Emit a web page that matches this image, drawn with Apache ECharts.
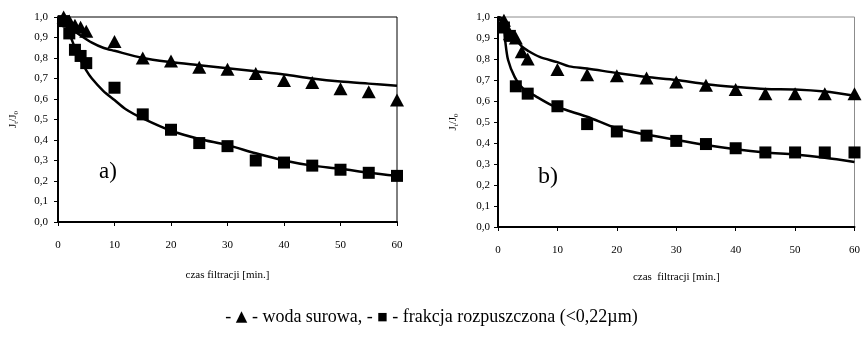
<!DOCTYPE html>
<html>
<head>
<meta charset="utf-8">
<script src="https://cdn.jsdelivr.net/npm/echarts@6/dist/echarts.min.js"></script>
<style>
	html, body { margin: 0; padding: 0; background: #fff; }
	#main { width: 863px; height: 341px; }
</style>
</head>
<body>
<div id="main"></div>
<script>
// dane z wykresu a)
var tA_woda = [1, 2, 3, 4, 5, 10, 15, 20, 25, 30, 35, 40, 45, 50, 55, 60];
var yA_woda = [1.0, 0.98, 0.96, 0.95, 0.93, 0.88, 0.80, 0.785, 0.755, 0.745, 0.725, 0.69, 0.68, 0.65, 0.635, 0.595];
var tA_frak = [1, 2, 3, 4, 5, 10, 15, 20, 25, 30, 35, 40, 45, 50, 55, 60];
var yA_frak = [0.98, 0.92, 0.84, 0.81, 0.775, 0.655, 0.525, 0.45, 0.385, 0.37, 0.30, 0.29, 0.275, 0.255, 0.24, 0.225];
// linie trendu a)
var tA_fitW = [0, 2, 4, 6, 8, 10, 15, 20, 25, 30, 35, 40, 45, 50, 55, 60];
var yA_fitW = [1.0, 0.95, 0.91, 0.875, 0.85, 0.835, 0.80, 0.78, 0.765, 0.75, 0.735, 0.72, 0.70, 0.685, 0.675, 0.665];
var tA_fitF = [0, 1, 2, 3, 4, 5, 6, 8, 10, 12, 15, 20, 25, 30, 35, 40, 45, 50, 55, 60];
var yA_fitF = [1.0, 0.98, 0.92, 0.85, 0.79, 0.74, 0.70, 0.64, 0.595, 0.55, 0.505, 0.445, 0.405, 0.375, 0.335, 0.30, 0.275, 0.26, 0.24, 0.225];

// dane z wykresu b)
var tB_woda = [1, 2, 3, 4, 5, 10, 15, 20, 25, 30, 35, 40, 45, 50, 55, 60];
var yB_woda = [0.985, 0.92, 0.90, 0.835, 0.80, 0.75, 0.725, 0.72, 0.71, 0.69, 0.675, 0.655, 0.635, 0.635, 0.635, 0.635];
var tB_frak = [1, 2, 3, 5, 10, 15, 20, 25, 30, 35, 40, 45, 50, 55, 60];
var yB_frak = [0.95, 0.91, 0.67, 0.635, 0.575, 0.49, 0.455, 0.435, 0.41, 0.395, 0.375, 0.355, 0.355, 0.355, 0.355];
// linie trendu b)
var tB_fitW = [0, 1, 2, 3, 4, 5, 7, 10, 12, 15, 20, 25, 30, 35, 40, 45, 50, 55, 60];
var yB_fitW = [1.0, 0.96, 0.93, 0.895, 0.86, 0.84, 0.81, 0.785, 0.765, 0.755, 0.733, 0.714, 0.70, 0.68, 0.667, 0.657, 0.655, 0.645, 0.625];
var tB_fitF = [0, 0.8, 1.2, 1.7, 2.8, 4.2, 6.5, 9, 10, 15, 20, 25, 30, 35, 40, 45, 50, 55, 60];
var yB_fitF = [1.0, 0.99, 0.89, 0.795, 0.715, 0.66, 0.62, 0.58, 0.57, 0.525, 0.47, 0.44, 0.415, 0.39, 0.37, 0.355, 0.345, 0.33, 0.31];

// osie
var xTicks = [0, 10, 20, 30, 40, 50, 60];
var yTicks = [0, 0.1, 0.2, 0.3, 0.4, 0.5, 0.6, 0.7, 0.8, 0.9, 1.0];

function pary(t, y) {
	var out = [];
	for (var i = 0; i < t.length; i++) out.push([t[i], y[i]]);
	return out;
}

var serif = '"Liberation Serif", "Times New Roman", serif';

function osX(idx, gap) {
	return {
		type: 'value', gridIndex: idx,
		min: xTicks[0], max: xTicks[xTicks.length - 1], interval: 10,
		name: idx == 0 ? 'czas filtracji [min.]' : 'czas  filtracji [min.]',
		nameLocation: 'middle', nameGap: gap,
		nameTextStyle: { fontFamily: serif, fontSize: 11, color: '#000' },
		axisLine: { lineStyle: { color: '#000', width: 2 } },
		axisTick: { show: true, length: 4, lineStyle: { color: '#000', width: 1 } },
		axisLabel: { fontFamily: serif, fontSize: 11, color: '#000', margin: 18 },
		splitLine: { show: false }
	};
}

function osY(idx, margin) {
	return {
		type: 'value', gridIndex: idx,
		min: yTicks[0], max: yTicks[yTicks.length - 1], interval: 0.1,
		name: '{n|J}{s|t}{n|/J}{s|0}',
		nameLocation: 'middle', nameGap: 38,
		nameTextStyle: {
			rich: {
				n: { fontFamily: serif, fontSize: 11, color: '#000' },
				s: { fontFamily: serif, fontSize: 7, color: '#000', padding: [6, 0, 0, 0] }
			}
		},
		axisLine: { show: true, lineStyle: { color: '#000', width: 2 } },
		axisTick: { show: true, length: 4, lineStyle: { color: '#000', width: 1 } },
		axisLabel: {
			fontFamily: serif, fontSize: 11, color: '#000', margin: margin,
			formatter: function(v) { return v.toFixed(1).replace('.', ','); }
		},
		splitLine: { show: false }
	};
}

function punkty(idx, dane, symbol, size) {
	return {
		type: 'scatter', xAxisIndex: idx, yAxisIndex: idx,
		data: dane, symbol: symbol, symbolSize: size,
		itemStyle: { color: '#000', opacity: 1 }, z: 3
	};
}

function linia(idx, dane) {
	return {
		type: 'line', xAxisIndex: idx, yAxisIndex: idx,
		data: dane, smooth: 0.3, showSymbol: false,
		lineStyle: { color: '#000', width: 2.5 }, z: 2
	};
}

var myChart = echarts.init(document.getElementById('main'));

option = {
	backgroundColor: '#fff',
	animation: false,
	grid: [
		{ left: 58, top: 17, width: 339, height: 205, show: true, borderColor: '#000', borderWidth: 1 },
		{ left: 498, top: 17, width: 358, height: 210, show: true, borderColor: '#8c8c8c', borderWidth: 1 }
	],
	xAxis: [osX(0, 48), osX(1, 45)],
	yAxis: [osY(0, 10), osY(1, 8)],
	series: [
		linia(0, pary(tA_fitW, yA_fitW)),
		linia(0, pary(tA_fitF, yA_fitF)),
		punkty(0, pary(tA_woda, yA_woda), 'triangle', [14, 13]),
		punkty(0, pary(tA_frak, yA_frak), 'rect', 12),
		linia(1, pary(tB_fitW, yB_fitW)),
		linia(1, pary(tB_fitF, yB_fitF)),
		punkty(1, pary(tB_woda, yB_woda), 'triangle', [14, 13]),
		punkty(1, pary(tB_frak, yB_frak), 'rect', 12)
	],
	graphic: [
		{ type: 'text', left: 99, top: 160, style: { text: 'a)', fontFamily: serif, fontSize: 23, fill: '#000' } },
		{ type: 'text', left: 538, top: 165, style: { text: 'b)', fontFamily: serif, fontSize: 24, fill: '#000' } },
		{
			type: 'text', left: 'center', top: 308,
			style: {
				text: '- {t|▲} - woda surowa, - {q|■} - frakcja rozpuszczona (<0,22µm)',
				fontFamily: serif, fontSize: 18, fill: '#000',
				rich: {
					t: { fontFamily: '"DejaVu Sans"', fontSize: 15, fill: '#000' },
					q: { fontFamily: '"DejaVu Sans"', fontSize: 11, fill: '#000' }
				}
			}
		}
	]
};

myChart.setOption(option);
</script>
</body>
</html>
